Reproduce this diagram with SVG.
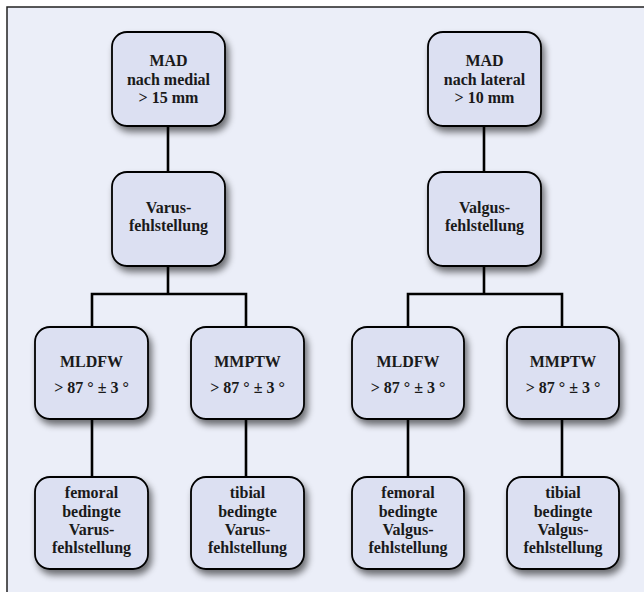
<svg xmlns="http://www.w3.org/2000/svg" width="644" height="592" viewBox="0 0 644 592">
<defs>
<filter id="sh" x="-20%" y="-20%" width="150%" height="150%">
<feGaussianBlur in="SourceAlpha" stdDeviation="3.5"/>
<feOffset dx="3" dy="5" result="b"/>
<feComponentTransfer><feFuncA type="linear" slope="0.55"/></feComponentTransfer>
<feMerge><feMergeNode/><feMergeNode in="SourceGraphic"/></feMerge>
</filter>
<style>
.box{fill:#dce0f2;stroke:#000;stroke-width:1.8;filter:url(#sh)}
.t{font-family:"Liberation Serif","Times New Roman",serif;font-weight:bold;font-size:16px;fill:#1a1a1a;text-anchor:middle}
.c{stroke:#000;stroke-width:2.6;fill:none}
</style>
</defs>
<rect x="0" y="0" width="644" height="592" fill="#ffffff"/>
<rect x="7" y="7" width="700" height="700" fill="#ebeef8" stroke="#222" stroke-width="1.5"/>
<g id="connectors">
<path class="c" d="M168 126V172M168 266V294M92 327V294H246V327M92 419V477M246 419V477"/>
<path class="c" d="M484 126V172M484 266V294M408 327V294H562V327M408 419V477M562 419V477"/>
</g>
<g id="n1"><rect class="box" x="112" y="32" width="113" height="94" rx="15"/>
<text class="t" x="168.5" y="66">MAD</text><text class="t" x="168.5" y="85">nach medial</text><text class="t" x="168.5" y="103">&gt; 15 mm</text></g>
<g id="n2"><rect class="box" x="112" y="172" width="113" height="94" rx="15"/>
<text class="t" x="168.5" y="213">Varus-</text><text class="t" x="168.5" y="231">fehlstellung</text></g>
<g id="n3"><rect class="box" x="35" y="327" width="113" height="92" rx="15"/>
<text class="t" x="91.5" y="367">MLDFW</text><text class="t" x="91.5" y="393">&gt; 87 ° ± 3 °</text></g>
<g id="n4"><rect class="box" x="191" y="327" width="113" height="92" rx="15"/>
<text class="t" x="247.5" y="367">MMPTW</text><text class="t" x="247.5" y="393">&gt; 87 ° ± 3 °</text></g>
<g id="n5"><rect class="box" x="35" y="477" width="113" height="92" rx="15"/>
<text class="t" x="91.5" y="498">femoral</text><text class="t" x="91.5" y="517">bedingte</text><text class="t" x="91.5" y="535">Varus-</text><text class="t" x="91.5" y="553">fehlstellung</text></g>
<g id="n6"><rect class="box" x="191" y="477" width="113" height="92" rx="15"/>
<text class="t" x="247.5" y="498">tibial</text><text class="t" x="247.5" y="517">bedingte</text><text class="t" x="247.5" y="535">Varus-</text><text class="t" x="247.5" y="553">fehlstellung</text></g>
<g id="n7"><rect class="box" x="428" y="32" width="113" height="94" rx="15"/>
<text class="t" x="484.5" y="66">MAD</text><text class="t" x="484.5" y="85">nach lateral</text><text class="t" x="484.5" y="103">&gt; 10 mm</text></g>
<g id="n8"><rect class="box" x="428" y="172" width="113" height="94" rx="15"/>
<text class="t" x="484.5" y="213">Valgus-</text><text class="t" x="484.5" y="231">fehlstellung</text></g>
<g id="n9"><rect class="box" x="352" y="327" width="112" height="92" rx="15"/>
<text class="t" x="408" y="367">MLDFW</text><text class="t" x="408" y="393">&gt; 87 ° ± 3 °</text></g>
<g id="n10"><rect class="box" x="507" y="327" width="112" height="92" rx="15"/>
<text class="t" x="563" y="367">MMPTW</text><text class="t" x="563" y="393">&gt; 87 ° ± 3 °</text></g>
<g id="n11"><rect class="box" x="352" y="477" width="112" height="92" rx="15"/>
<text class="t" x="408" y="498">femoral</text><text class="t" x="408" y="517">bedingte</text><text class="t" x="408" y="535">Valgus-</text><text class="t" x="408" y="553">fehlstellung</text></g>
<g id="n12"><rect class="box" x="507" y="477" width="112" height="92" rx="15"/>
<text class="t" x="563" y="498">tibial</text><text class="t" x="563" y="517">bedingte</text><text class="t" x="563" y="535">Valgus-</text><text class="t" x="563" y="553">fehlstellung</text></g>
</svg>
